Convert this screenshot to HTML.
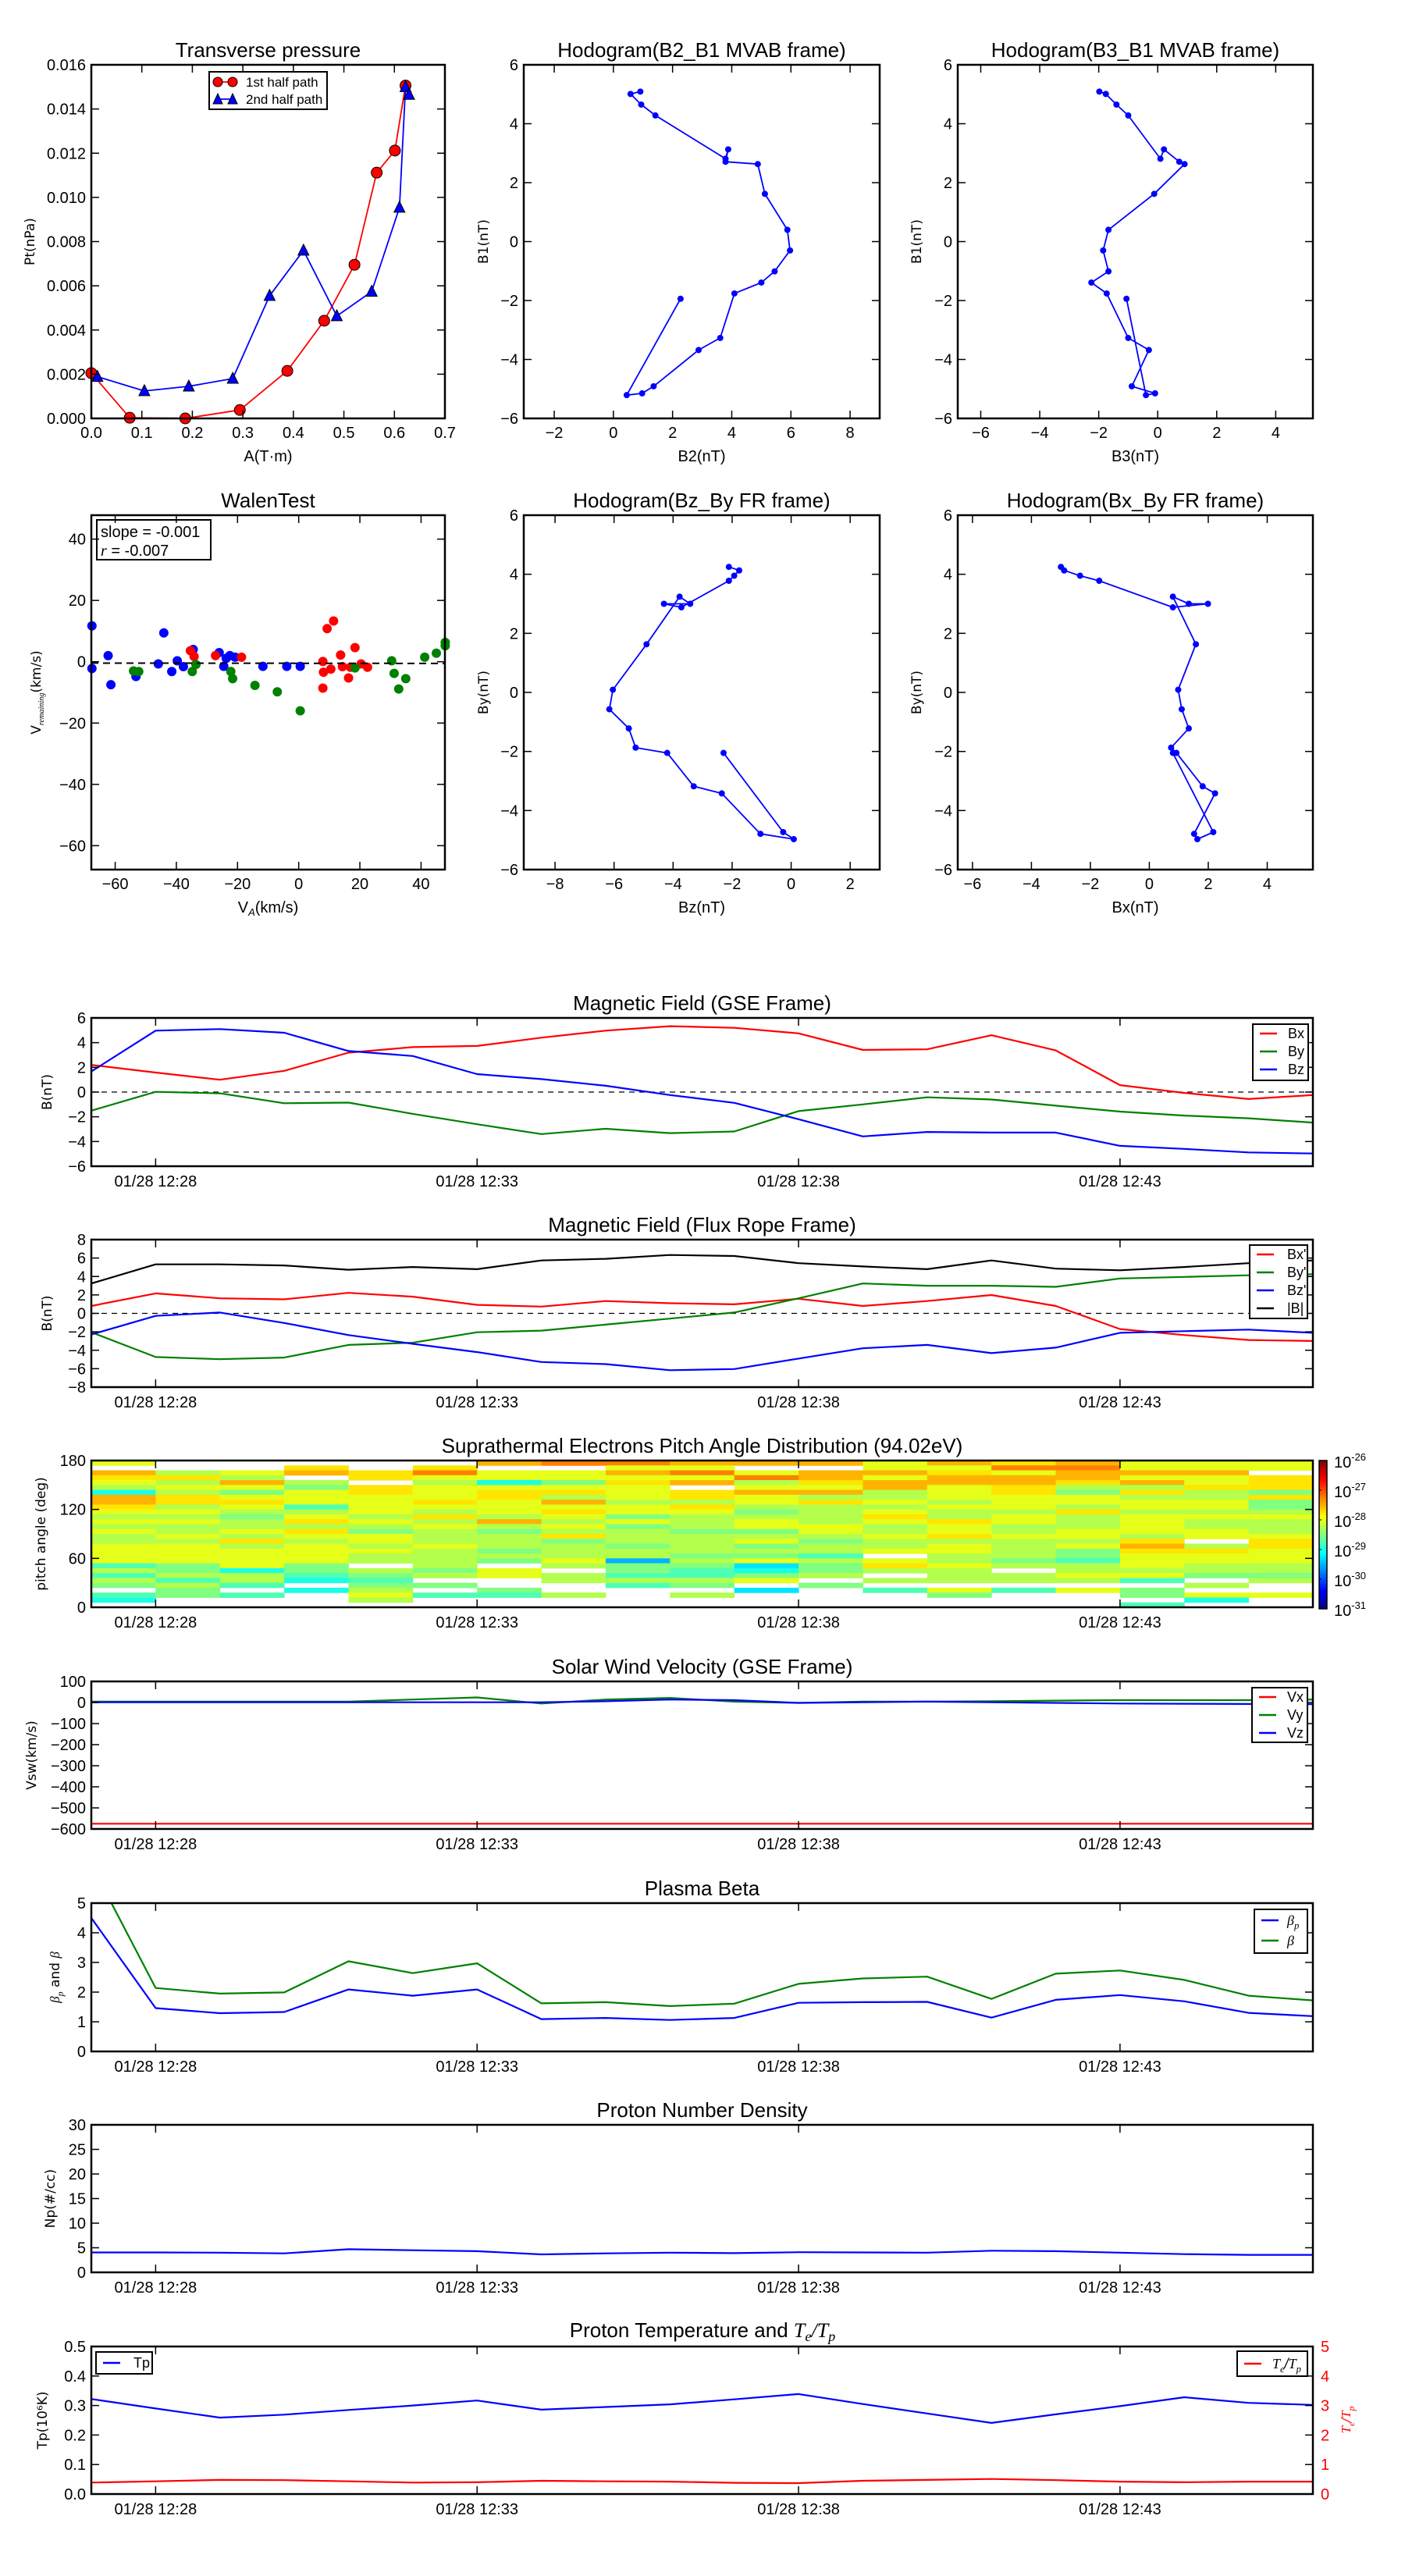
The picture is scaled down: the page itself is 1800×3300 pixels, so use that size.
<!DOCTYPE html>
<html><head><meta charset="utf-8">
<style>
html,body{margin:0;padding:0;background:#fff;}
svg{display:block;font-family:"Liberation Sans Narrow","Liberation Sans",sans-serif;}
.yl{font-family:"DejaVu Sans","Liberation Sans",sans-serif;}
</style></head>
<body>
<svg id="fig" width="1800" height="3300" viewBox="0 0 1800 3300" xmlns="http://www.w3.org/2000/svg">
<defs id="defs"></defs>
</svg>
<script>
// ---------- DATA ----------
const minutes = [0,1,2,3,4,5,6,7,8,9,10,11,12,13,14,15,16,17,18,19];
const timeTickMinutes = [1,6,11,16];
const timeTickLabels = ['01/28 12:28','01/28 12:33','01/28 12:38','01/28 12:43'];

const gseBx = [2.2,1.58,1.0,1.72,3.19,3.64,3.73,4.4,4.97,5.33,5.2,4.75,3.41,3.46,4.6,3.37,0.56,-0.07,-0.56,-0.24];
const gseBy = [-1.5,0.02,-0.1,-0.9,-0.85,-1.76,-2.6,-3.4,-2.97,-3.32,-3.19,-1.54,-1.0,-0.42,-0.6,-1.1,-1.58,-1.9,-2.12,-2.47];
const gseBz = [1.67,4.97,5.1,4.8,3.32,2.92,1.45,1.05,0.51,-0.24,-0.87,-2.2,-3.59,-3.23,-3.28,-3.28,-4.35,-4.6,-4.88,-4.97];

const frBx = [0.8,2.17,1.63,1.52,2.23,1.81,0.92,0.74,1.34,1.1,0.98,1.58,0.8,1.34,1.99,0.8,-1.7,-2.35,-2.89,-3.0];
const frBy = [-2.05,-4.73,-4.97,-4.79,-3.42,-3.18,-2.05,-1.87,-1.22,-0.57,0.09,1.63,3.24,3.0,3.0,2.88,3.78,3.95,4.13,4.25];
const frBz = [-2.29,-0.27,0.09,-1.04,-2.35,-3.3,-4.2,-5.27,-5.5,-6.16,-6.04,-4.9,-3.78,-3.42,-4.31,-3.72,-2.11,-1.93,-1.76,-2.11];
const frBt = [3.24,5.32,5.32,5.2,4.73,5.03,4.79,5.74,5.92,6.33,6.22,5.44,5.09,4.79,5.74,4.85,4.67,5.03,5.44,5.74];

const vswX = [-575,-575,-575,-575,-575,-575,-575,-575,-575,-575,-575,-575,-575,-575,-575,-575,-575,-575,-575,-575];
const vswY = [4,4,4,4,4,14,24,-5,14,22,4,-2,4,4,6,9,11,11,11,14];
const vswZ = [1,1,1,1,1,1,1,1,6,14,11,-2,1,4,1,-2,-5,-6,-7,-8];

const betaP = [4.5,1.46,1.29,1.33,2.09,1.88,2.09,1.09,1.13,1.06,1.13,1.64,1.66,1.67,1.14,1.74,1.9,1.69,1.3,1.19];
const betaT = [6.3,2.14,1.95,1.99,3.04,2.64,2.97,1.62,1.66,1.53,1.61,2.28,2.46,2.52,1.77,2.62,2.73,2.41,1.88,1.72];

const protonNp = [4.04,4.04,4.0,3.85,4.7,4.5,4.3,3.65,3.85,4.0,3.9,4.1,4.05,4.0,4.4,4.3,4.0,3.7,3.55,3.55];

const protonTp = [0.322,0.29,0.259,0.269,0.285,0.30,0.317,0.286,0.295,0.304,0.321,0.339,0.305,0.273,0.241,0.27,0.298,0.328,0.309,0.302];
const teTpRatio = [0.39,0.43,0.48,0.47,0.43,0.39,0.40,0.45,0.43,0.42,0.38,0.37,0.45,0.48,0.51,0.47,0.42,0.40,0.42,0.42];

// pitch-angle distribution: one string per minute column, rows from 180deg (top) to 0deg; digit = flux level, '.'/' ' = no data
const padColumns = [
 "6.876528876565655666635354 32..",
 "..57565775656556566664453544..",
 "..658646765455657566662553 3..",
 ".78.546663567576566664432 2 ..",
 "..77.7766665654665655.5434565.",
 ".79656667657565556555545 4 3..",
 "8.6626776665854555454.66..43..",
 "9.66467586765657455565.55..5..",
 "96867666566464555455044353 ...",
 "86968.77576555455554543354 5..",
 "8.69568665456645645461246 1...",
 "8.8876857555566545535445 4 ...",
 "6686885565676556556 675 5 3 ..",
 "8678866656557667566556555 64..",
 "7968877666566556555545 55 3 ..",
 "8988754665755566564435565 6...",
 "6686857566566665787666563.44 3",
 "6686675566565566 5766554 5 62.",
 "66.7774744565556776665545 .6.."
];
const padTicks = [0,60,120,180];
const cbarLabels = ['-26','-27','-28','-29','-30','-31'];

// transverse pressure
const ptA1 = [0,0.076,0.186,0.294,0.388,0.461,0.521,0.565,0.601,0.622];
const ptP1 = [0.00205,0.00003,0,0.00038,0.00215,0.00442,0.00695,0.01112,0.01212,0.01506];
const ptA2 = [0.012,0.105,0.193,0.28,0.353,0.42,0.486,0.555,0.61,0.622,0.629];
const ptP2 = [0.00189,0.00124,0.00145,0.0018,0.00555,0.0076,0.00463,0.00574,0.00954,0.0150,0.01465];

// MVAB hodograms
const mvB1 = [-1.94,-5.21,-5.15,-4.91,-3.68,-3.27,-1.76,-1.39,-1.01,-0.3,0.4,1.62,2.63,2.71,3.13,2.81,4.28,4.65,5.01,5.09];
const mvB2 = [2.27,0.45,0.97,1.36,2.88,3.61,4.09,5.0,5.45,5.97,5.88,5.12,4.88,3.79,3.88,3.79,1.42,0.94,0.58,0.91];
const mvB3 = [-1.06,-0.4,-0.09,-0.88,-0.3,-1.0,-1.73,-2.25,-1.67,-1.85,-1.67,-0.12,0.91,0.73,0.21,0.09,-1.0,-1.4,-1.76,-1.98];

// Walen test
const walenBlueVA = [-67.6,-67.6,-62.3,-61.4,-53.2,-45.9,-44.1,-41.5,-39.7,-37.7,-34.5,-26,-24.5,-23.7,-22.5,-20.8,-11.7,-3.9,0.5];
const walenBlueV  = [11.7,-2.2,2,-7.5,-4.8,-0.7,9.4,-3.2,0.3,-1.6,4,3,-1.5,1.1,2,1.5,-1.5,-1.5,-1.5];
const walenRedVA = [-35.4,-34.2,-27.2,-18.7,7.9,7.9,8.1,9.3,10.5,11.4,13.7,14.3,16.3,16.9,18.4,20.4,22.5];
const walenRedV  = [3.6,1.7,2,1.5,-8.6,0.1,-3.4,10.8,-2.4,13.3,2.2,-1.6,-5.3,-1.8,4.6,-0.7,-1.8];
const walenGreenVA = [-54,-52.3,-34.8,-33.6,-22.2,-21.6,-14.3,-7,0.5,18.4,30.4,31.2,32.7,35,41.2,45,47.9,47.9];
const walenGreenV  = [-3,-3.2,-3.2,-0.9,-3.2,-5.5,-7.7,-9.8,-16,-2,0.3,-3.8,-8.9,-5.5,1.5,2.8,6.3,5.2];
const walenSlope = -0.001, walenIntercept = -0.5;

// ---------- HELPERS ----------
const NS = 'http://www.w3.org/2000/svg';
const svg = document.getElementById('fig');
const defs = document.getElementById('defs');
let clipId = 0;
function mk(parent, tag, attrs){
  const e = document.createElementNS(NS, tag);
  for (const k in attrs) e.setAttribute(k, attrs[k]);
  parent.appendChild(e);
  return e;
}
function nm(e, name, inter){
  
  
  return e;
}
function txt(parent, x, y, s, opts){
  opts = opts || {};
  const t = mk(parent, 'text', {x:x, y:y, 'font-size':opts.size||20, 'text-anchor':opts.anchor||'middle', fill:opts.fill||'#000'});
  if (opts.cls) t.setAttribute('class', opts.cls);
  if (opts.rot) t.setAttribute('transform', 'rotate(-90 '+x+' '+y+')');
  t.textContent = s;
  return t;
}
function fmtMinus(v, d){ const s = v.toFixed(d); return s.replace('-', '\u2212'); }
function makeClip(x0,y0,x1,y1){
  const id = 'clip'+(clipId++);
  const cp = mk(defs, 'clipPath', {id:id});
  mk(cp, 'rect', {x:x0, y:y0, width:x1-x0, height:y1-y0});
  return 'url(#'+id+')';
}
function frame(g, x0,y0,x1,y1){
  const r = mk(g, 'rect', {x:x0, y:y0, width:x1-x0, height:y1-y0, fill:'none', stroke:'#000', 'stroke-width':2.5});
  nm(r, 'axes-frame', false);
}
function yTicks(g, x0,x1,ys,labels,opts){
  opts = opts||{};
  ys.forEach((y,i)=>{
    mk(g,'line',{x1:x0,y1:y,x2:x0+10,y2:y,stroke:'#000','stroke-width':1.5});
    mk(g,'line',{x1:x1,y1:y,x2:x1-10,y2:y,stroke:opts.rightColor||'#000','stroke-width':1.5});
    const t = txt(g, x0-7, y+7, labels[i], {anchor:'end', size:20});
    nm(t, 'y-tick-label', false);
  });
}
function xTicks(g, y0,y1,xs,labels,off){
  xs.forEach((x,i)=>{
    mk(g,'line',{x1:x,y1:y1,x2:x,y2:y1-10,stroke:'#000','stroke-width':1.5});
    mk(g,'line',{x1:x,y1:y0,x2:x,y2:y0+10,stroke:'#000','stroke-width':1.5});
    const t = txt(g, x, y1+(off||24), labels[i], {size:20});
    nm(t, 'x-tick-label', false);
  });
}
function polyline(g, xs, ys, color, w, clip, name){
  let d = '';
  xs.forEach((x,i)=>{ d += (i?'L':'M') + x.toFixed(1)+','+ys[i].toFixed(1); });
  const p = mk(g, 'path', {d:d, fill:'none', stroke:color, 'stroke-width':w||2, 'stroke-linejoin':'round'});
  if (clip) p.setAttribute('clip-path', clip);
  nm(p, name, false);
  return p;
}
function scale(d0,d1,r0,r1){ return v => r0 + (v-d0)/(d1-d0)*(r1-r0); }

// ---------- TIME SERIES PANELS ----------
const TX0 = 117, TX1 = 1682;
const tx = scale(0, 19, TX0, TX1);

function timePanel(cfg){
  const g = mk(svg, 'g', {});
  nm(g, cfg.name, false);
  const {top, bot} = cfg;
  const ty = scale(cfg.ymin, cfg.ymax, bot, top);
  const t = txt(g, (TX0+TX1)/2, top-10, cfg.title, {size:26});
  nm(t, 'panel-title', false);
  const clip = makeClip(TX0, top, TX1, bot);
  if (cfg.zero){
    const z = mk(g,'line',{x1:TX0,y1:ty(0),x2:TX1,y2:ty(0),stroke:'#000','stroke-width':1.3,'stroke-dasharray':'7,6'});
    nm(z, 'zero-line', false);
  }
  if (cfg.drawExtra) cfg.drawExtra(g, ty, clip);
  (cfg.series||[]).forEach(s=>{
    const sy = s.scale || ty;
    polyline(g, minutes.map(tx), s.values.map(sy), s.color, 2.2, clip, s.name);
  });
  frame(g, TX0, top, TX1, bot);
  yTicks(g, TX0, TX1, cfg.yticks.map(ty), cfg.yticks.map(v=>cfg.fmt(v)));
  xTicks(g, top, bot, timeTickMinutes.map(tx), timeTickLabels, 26);
  const yl = txt(g, cfg.ylx, (top+bot)/2, '', {size:17, rot:true, cls:'yl'});
  if (cfg.ylabelFn) cfg.ylabelFn(yl); else yl.textContent = cfg.ylabel;
  nm(yl, 'y-axis-title', false);
  if (cfg.legend) legend(g, cfg.legend);
  return g;
}
function legend(g, L){
  const lg = mk(g, 'g', {});
  nm(lg, 'legend', false);
  const r = mk(lg, 'rect', {x:L.x, y:L.y, width:L.w, height:L.h, fill:'#fff', stroke:'#000', 'stroke-width':2});
  nm(r, 'legend-box', false);
  L.entries.forEach((e,i)=>{
    const y = L.y + L.pad + i*L.rowH;
    const ln = mk(lg, 'line', {x1:L.x+9, y1:y, x2:L.x+31, y2:y, stroke:e.color, 'stroke-width':2.5});
    nm(ln, 'legend-swatch', false);
    const t = txt(lg, L.x+L.tx, y+6, '', {size:18, anchor:'start'});
    if (e.fn) e.fn(t); else t.textContent = e.label;
    nm(t, 'legend-entry', false);
  });
}
function mathSub(t, base, sub, pre){
  if (pre){ const a = mk(t,'tspan',{}); a.textContent = pre; }
  const b = mk(t,'tspan',{'font-style':'italic','font-family':'"Liberation Serif",serif'}); b.textContent = base;
  const s = mk(t,'tspan',{'font-style':'italic','font-size':'70%',dy:5,'font-family':'"Liberation Serif",serif'}); s.textContent = sub;
  const r = mk(t,'tspan',{dy:-5}); r.textContent = '\u200b';
}

// GSE
timePanel({name:'gse-field-panel', top:1304, bot:1494, ymin:-6, ymax:6, yticks:[-6,-4,-2,0,2,4,6], fmt:v=>fmtMinus(v,0),
  title:'Magnetic Field (GSE Frame)', ylabel:'B(nT)', ylx:66, zero:true,
  series:[{name:'bx-line',color:'#ff0000',values:gseBx},{name:'by-line',color:'#008000',values:gseBy},{name:'bz-line',color:'#0000ff',values:gseBz}],
  legend:{x:1605,y:1312,w:71,h:72,pad:12,rowH:23,tx:45,entries:[{label:'Bx',color:'#ff0000'},{label:'By',color:'#008000'},{label:'Bz',color:'#0000ff'}]}});

// Flux rope
timePanel({name:'fr-field-panel', top:1588, bot:1777, ymin:-8, ymax:8, yticks:[-8,-6,-4,-2,0,2,4,6,8], fmt:v=>fmtMinus(v,0),
  title:'Magnetic Field (Flux Rope Frame)', ylabel:'B(nT)', ylx:66, zero:true,
  series:[{name:'bx-prime-line',color:'#ff0000',values:frBx},{name:'by-prime-line',color:'#008000',values:frBy},{name:'bz-prime-line',color:'#0000ff',values:frBz},{name:'bt-line',color:'#000000',values:frBt}],
  legend:{x:1601,y:1595,w:74,h:94,pad:12,rowH:23,tx:48,entries:[{label:"Bx'",color:'#ff0000'},{label:"By'",color:'#008000'},{label:"Bz'",color:'#0000ff'},{label:'|B|',color:'#000'}]}});

// PAD
function jet(t){
  const c = v => Math.max(0, Math.min(1, v));
  const r = c(1.5-Math.abs(4*t-3)), g = c(1.5-Math.abs(4*t-2)), b = c(1.5-Math.abs(4*t-1));
  return 'rgb('+Math.round(r*255)+','+Math.round(g*255)+','+Math.round(b*255)+')';
}
timePanel({name:'pad-panel', top:1871, bot:2059, ymin:0, ymax:180, yticks:padTicks, fmt:v=>String(v),
  title:'Suprathermal Electrons Pitch Angle Distribution (94.02eV)', ylabel:'pitch angle (deg)', ylx:58,
  drawExtra:(g, ty, clip)=>{
    const hg = mk(g,'g',{'clip-path':clip});
    nm(hg, 'heatmap', false);
    const nRows = 30, dA = 180/nRows;
    padColumns.forEach((col, ci)=>{
      const s = col.padEnd(nRows,'.').slice(0,nRows);
      for (let ri=0; ri<nRows; ri++){
        const ch = s[ri];
        if (ch==='.'||ch===' ') continue;
        const d = parseInt(ch,10);
        const a1 = 180 - ri*dA, a0 = a1 - dA;
        const x0 = tx(minutes[ci]), x1 = tx(minutes[ci]+1);
        const cell = mk(hg,'rect',{x:x0, y:ty(a1), width:x1-x0+0.5, height:ty(a0)-ty(a1)+0.5, fill:jet(0.3+d*0.05)});
        
        
      }
    });
  }});
// colorbar
(function(){
  const g = mk(svg,'g',{});
  nm(g,'colorbar',false);
  const x0=1690, x1=1700, y0=1871, y1=2061, n=60;
  for (let i=0;i<n;i++){
    const y = y1 - (i+1)*(y1-y0)/n;
    mk(g,'rect',{x:x0,y:y,width:x1-x0,height:(y1-y0)/n+0.5,fill:jet((i+0.5)/n)});
  }
  const fr = mk(g,'rect',{x:x0,y:y0,width:x1-x0,height:y1-y0,fill:'none',stroke:'#000','stroke-width':1.5});
  nm(fr,'colorbar-frame',false);
  cbarLabels.forEach((lab,i)=>{
    const y = y0 + i*(y1-y0)/5;
    mk(g,'line',{x1:x0,y1:y,x2:x0+3,y2:y,stroke:'#000','stroke-width':1});
    const t = txt(g, x1+9, y+9, '10', {anchor:'start', size:20});
    const s = mk(t,'tspan',{dy:-9,'font-size':13}); s.textContent = lab;
    nm(t,'colorbar-tick-label',false);
  });
})();

// Solar wind
timePanel({name:'vsw-panel', top:2154, bot:2343, ymin:-600, ymax:100, yticks:[-600,-500,-400,-300,-200,-100,0,100], fmt:v=>fmtMinus(v,0),
  title:'Solar Wind Velocity (GSE Frame)', ylabel:'Vsw(km/s)', ylx:46,
  series:[{name:'vx-line',color:'#ff0000',values:vswX},{name:'vy-line',color:'#008000',values:vswY},{name:'vz-line',color:'#0000ff',values:vswZ}],
  legend:{x:1604,y:2162,w:71,h:70,pad:12,rowH:23,tx:45,entries:[{label:'Vx',color:'#ff0000'},{label:'Vy',color:'#008000'},{label:'Vz',color:'#0000ff'}]}});

// Beta
timePanel({name:'beta-panel', top:2438, bot:2628, ymin:0, ymax:5, yticks:[0,1,2,3,4,5], fmt:v=>String(v),
  title:'Plasma Beta', ylx:76,
  ylabelFn:t=>{ mathSub(t,'β','p'); const a = mk(t,'tspan',{}); a.textContent=' and '; const b = mk(t,'tspan',{'font-style':'italic','font-family':'"Liberation Serif",serif'}); b.textContent='β'; },
  series:[{name:'beta-p-line',color:'#0000ff',values:betaP},{name:'beta-line',color:'#008000',values:betaT}],
  legend:{x:1607,y:2446,w:68,h:56,pad:14,rowH:26,tx:42,entries:[{color:'#0000ff',fn:t=>mathSub(t,'β','p')},{color:'#008000',fn:t=>{const b=mk(t,'tspan',{'font-style':'italic','font-family':'"Liberation Serif",serif'}); b.textContent='β';}}]}});

// Np
timePanel({name:'density-panel', top:2722, bot:2911, ymin:0, ymax:30, yticks:[0,5,10,15,20,25,30], fmt:v=>String(v),
  title:'Proton Number Density', ylabel:'Np(#/cc)', ylx:70,
  series:[{name:'np-line',color:'#0000ff',values:protonNp}]});

// Tp
(function(){
  const ry = scale(0,5,3195,3006);
  const g = timePanel({name:'temperature-panel', top:3006, bot:3195, ymin:0, ymax:0.5, yticks:[0,0.1,0.2,0.3,0.4,0.5], fmt:v=>v.toFixed(1),
    title:'', ylabel:'Tp(10\u2076K)', ylx:60,
    series:[{name:'tp-line',color:'#0000ff',values:protonTp},{name:'te-tp-line',color:'#ff0000',values:teTpRatio,scale:ry}],
    legend:{x:123,y:3013,w:72,h:28,pad:14,rowH:26,tx:48,entries:[{label:'Tp',color:'#0000ff'}]}});
  const tt = txt(g, 900, 2994, 'Proton Temperature and ', {size:26});
  mathSub(tt,'T','e'); const sl = mk(tt,'tspan',{'font-style':'italic','font-family':'"Liberation Serif",serif'}); sl.textContent='/'; mathSub(tt,'T','p');
  nm(tt,'panel-title',false);
  [0,1,2,3,4,5].forEach(v=>{
    const t = txt(g, 1692, ry(v)+7, String(v), {anchor:'start', size:20, fill:'#ff0000'});
    nm(t,'right-tick-label',false);
  });
  const rl = txt(g, 1730, 3100, '', {size:17, rot:true, fill:'#ff0000'});
  mathSub(rl,'T','e'); const s2 = mk(rl,'tspan',{'font-style':'italic'}); s2.textContent='/'; mathSub(rl,'T','p');
  nm(rl,'right-axis-title',false);
  legend(g,{x:1585,y:3012,w:90,h:32,pad:16,rowH:26,tx:45,entries:[{color:'#ff0000',fn:t=>{mathSub(t,'T','e'); const a=mk(t,'tspan',{'font-style':'italic'}); a.textContent='/'; mathSub(t,'T','p');}}]});
})();

// ---------- XY PANELS ----------
function xyPanel(cfg){
  const g = mk(svg,'g',{});
  nm(g, cfg.name, false);
  const {x0,y0,x1,y1} = cfg;
  const sx = scale(cfg.xmin,cfg.xmax,x0,x1), sy = scale(cfg.ymin,cfg.ymax,y1,y0);
  const t = txt(g,(x0+x1)/2,y0-10,cfg.title,{size:26});
  nm(t,'panel-title',false);
  const clip = makeClip(x0-8,y0-8,x1+8,y1+8);
  cfg.draw(g,sx,sy,clip);
  frame(g,x0,y0,x1,y1);
  yTicks(g,x0,x1,cfg.yticks.map(sy),cfg.yticks.map(cfg.fmtY));
  xTicks(g,y0,y1,cfg.xticks.map(sx),cfg.xticks.map(cfg.fmtX),25);
  const xl = txt(g,(x0+x1)/2,y1+55,'',{size:20});
  if (cfg.xlabelFn) cfg.xlabelFn(xl); else xl.textContent = cfg.xlabel;
  nm(xl,'x-axis-title',false);
  const yl = txt(g,cfg.ylx,(y0+y1)/2,'',{size:17,rot:true,cls:'yl'});
  if (cfg.ylabelFn) cfg.ylabelFn(yl); else yl.textContent = cfg.ylabel;
  nm(yl,'y-axis-title',false);
  return g;
}
function dots(g, xs, ys, sx, sy, color, r, name, clip){
  xs.forEach((v,i)=>{
    const c = mk(g,'circle',{cx:sx(v),cy:sy(ys[i]),r:r,fill:color});
    if (clip) c.setAttribute('clip-path',clip);
    
    
  });
}
const R1 = {y0:83, y1:536}, R2 = {y0:660, y1:1114};
const C1 = {x0:117,x1:570}, C2 = {x0:671,x1:1127}, C3 = {x0:1227,x1:1682};
const f0 = v=>fmtMinus(v,0);

xyPanel({name:'transverse-pressure-panel', x0:C1.x0,x1:C1.x1,y0:R1.y0,y1:R1.y1, xmin:0,xmax:0.7,ymin:0,ymax:0.016,
  xticks:[0,0.1,0.2,0.3,0.4,0.5,0.6,0.7], yticks:[0,0.002,0.004,0.006,0.008,0.010,0.012,0.014,0.016],
  fmtX:v=>v.toFixed(1), fmtY:v=>v.toFixed(3), title:'Transverse pressure', xlabel:'A(T\u00b7m)', ylabel:'Pt(nPa)', ylx:44,
  draw:(g,sx,sy,clip)=>{
    polyline(g, ptA1.map(sx), ptP1.map(sy), '#ff0000', 1.8, clip, 'first-half-line');
    polyline(g, ptA2.map(sx), ptP2.map(sy), '#0000ff', 1.8, clip, 'second-half-line');
    ptA1.forEach((a,i)=>{
      const c = mk(g,'circle',{cx:sx(a),cy:sy(ptP1[i]),r:7,fill:'#ff0000',stroke:'#000','stroke-width':1,'clip-path':clip});
      
      
    });
    ptA2.forEach((a,i)=>{
      const x=sx(a), y=sy(ptP2[i]);
      const p = mk(g,'path',{d:`M${x},${y-8}L${x+7},${y+6}L${x-7},${y+6}Z`,fill:'#0000ff',stroke:'#000','stroke-width':1,'clip-path':clip});
      
      
    });
    const lg = mk(g,'g',{});
    nm(lg,'legend',false);
    mk(lg,'rect',{x:268,y:92,width:151,height:48,fill:'#fff',stroke:'#000','stroke-width':2});
    mk(lg,'line',{x1:279,y1:105,x2:298,y2:105,stroke:'#ff0000','stroke-width':1.8});
    mk(lg,'circle',{cx:279,cy:105,r:6,fill:'#ff0000',stroke:'#000'});
    mk(lg,'circle',{cx:298,cy:105,r:6,fill:'#ff0000',stroke:'#000'});
    const t1 = txt(lg,315,111,'1st half path',{anchor:'start',size:17}); nm(t1,'legend-entry',false);
    mk(lg,'line',{x1:279,y1:127,x2:298,y2:127,stroke:'#0000ff','stroke-width':1.8});
    mk(lg,'path',{d:'M279,120L285,133L273,133Z',fill:'#0000ff',stroke:'#000'});
    mk(lg,'path',{d:'M298,120L304,133L292,133Z',fill:'#0000ff',stroke:'#000'});
    const t2 = txt(lg,315,133,'2nd half path',{anchor:'start',size:17}); nm(t2,'legend-entry',false);
  }});

function hodo(name,C,R,xmin,xmax,xticks,xs,ys,title,xlabel,ylabel,ylx){
  xyPanel({name:name, x0:C.x0,x1:C.x1,y0:R.y0,y1:R.y1, xmin:xmin,xmax:xmax,ymin:-6,ymax:6,
    xticks:xticks, yticks:[-6,-4,-2,0,2,4,6], fmtX:f0, fmtY:f0, title:title, xlabel:xlabel, ylabel:ylabel, ylx:ylx,
    draw:(g,sx,sy,clip)=>{
      polyline(g, xs.map(sx), ys.map(sy), '#0000ff', 1.8, clip, 'hodogram-path');
      dots(g, xs, ys, sx, sy, '#0000ff', 4, 'hodogram-point', clip);
    }});
}
hodo('hodogram-b2-b1-panel', C2, R1, -3.03, 9.0, [-2,0,2,4,6,8], mvB2, mvB1, 'Hodogram(B2_B1 MVAB frame)', 'B2(nT)', 'B1(nT)', 625);
hodo('hodogram-b3-b1-panel', C3, R1, -6.78, 5.26, [-6,-4,-2,0,2,4], mvB3, mvB1, 'Hodogram(B3_B1 MVAB frame)', 'B3(nT)', 'B1(nT)', 1180);
hodo('hodogram-bz-by-panel', C2, R2, -9.06, 3.0, [-8,-6,-4,-2,0,2], frBz, frBy, 'Hodogram(Bz_By FR frame)', 'Bz(nT)', 'By(nT)', 625);
hodo('hodogram-bx-by-panel', C3, R2, -6.5, 5.55, [-6,-4,-2,0,2,4], frBx, frBy, 'Hodogram(Bx_By FR frame)', 'Bx(nT)', 'By(nT)', 1180);

xyPanel({name:'walen-test-panel', x0:C1.x0,x1:C1.x1,y0:R2.y0,y1:R2.y1, xmin:-67.8,xmax:47.8,ymin:-67.8,ymax:47.8,
  xticks:[-60,-40,-20,0,20,40], yticks:[-60,-40,-20,0,20,40], fmtX:f0, fmtY:f0, title:'WalenTest', ylx:52,
  xlabelFn:t=>{ const a=mk(t,'tspan',{}); a.textContent='V'; const s=mk(t,'tspan',{'font-style':'italic','font-size':'65%',dy:4}); s.textContent='A'; const b=mk(t,'tspan',{dy:-4}); b.textContent='(km/s)'; },
  ylabelFn:t=>{ const a=mk(t,'tspan',{}); a.textContent='V'; const s=mk(t,'tspan',{'font-style':'italic','font-size':'60%',dy:4,'font-family':'"Liberation Serif",serif'}); s.textContent='remaining'; const b=mk(t,'tspan',{dy:-4}); b.textContent='(km/s)'; },
  draw:(g,sx,sy,clip)=>{
    dots(g, walenBlueVA, walenBlueV, sx, sy, '#0000ff', 6, 'walen-point-blue', clip);
    dots(g, walenRedVA, walenRedV, sx, sy, '#ff0000', 6, 'walen-point-red', clip);
    dots(g, walenGreenVA, walenGreenV, sx, sy, '#008000', 6, 'walen-point-green', clip);
    const fx0=-67.8, fx1=47.8;
    const fl = mk(g,'line',{x1:sx(fx0),y1:sy(walenSlope*fx0+walenIntercept),x2:sx(fx1),y2:sy(walenSlope*fx1+walenIntercept),stroke:'#000','stroke-width':2,'stroke-dasharray':'9,6'});
    nm(fl,'fit-line',false);
    const bx = mk(g,'g',{});
    nm(bx,'stats-box',false);
    mk(bx,'rect',{x:124,y:666,width:146,height:51,fill:'#fff',stroke:'#000','stroke-width':2});
    txt(bx,129,688,'slope = -0.001',{anchor:'start',size:20});
    const r = txt(bx,129,712,'',{anchor:'start',size:20});
    const ri = mk(r,'tspan',{'font-style':'italic','font-family':'"Liberation Serif",serif'}); ri.textContent='r';
    const rr = mk(r,'tspan',{}); rr.textContent=' = -0.007';
  }});
</script>
</body></html>
